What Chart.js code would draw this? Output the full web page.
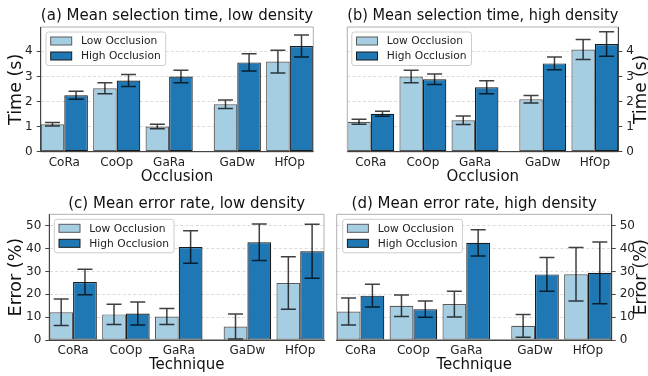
<!DOCTYPE html>
<html><head><meta charset="utf-8">
<script src="https://cdn.jsdelivr.net/npm/chart.js@4.4.1/dist/chart.umd.min.js"></script>
<style>
html,body{margin:0;padding:0;background:#fff;}
#wrap{position:relative;width:648px;height:376px;overflow:hidden;}
canvas{position:absolute;left:0;top:0;}
</style></head><body>
<div id="wrap">
<canvas id="pa" width="648" height="376"></canvas>
<canvas id="pb" width="648" height="376"></canvas>
<canvas id="pc" width="648" height="376"></canvas>
<canvas id="pd" width="648" height="376"></canvas>
</div>
<script>
// ---------- data ----------
const categories = ['CoRa', 'CoOp', 'GaRa', 'GaDw', 'HfOp'];
const groupX = [0, 1, 2, 3.3, 4.3];
const seriesLabels = ['Low Occlusion', 'High Occlusion'];

const timeTickValues = [0, 0.5, 1, 1.5, 2, 2.5, 3, 3.5, 4, 4.5];
const errorTickValues = [0, 5, 10, 15, 20, 25, 30, 35, 40, 45, 50];

// (a) selection time, low density
const timeLowDensLowOcc = [1.09, 2.53, 1.00, 1.89, 3.59];
const timeLowDensLowOccErr = [0.07, 0.22, 0.09, 0.17, 0.45];
const timeLowDensHighOcc = [2.25, 2.84, 3.00, 3.56, 4.21];
const timeLowDensHighOccErr = [0.16, 0.24, 0.25, 0.34, 0.44];
// (b) selection time, high density
const timeHighDensLowOcc = [1.19, 3.00, 1.25, 2.09, 4.07];
const timeHighDensLowOccErr = [0.10, 0.25, 0.17, 0.15, 0.40];
const timeHighDensHighOcc = [1.51, 2.89, 2.57, 3.52, 4.29];
const timeHighDensHighOccErr = [0.10, 0.21, 0.26, 0.25, 0.49];
// (c) error rate, low density
const errLowDensLowOcc = [12.1, 11.2, 10.3, 5.9, 24.9];
const errLowDensLowOccErr = [5.8, 4.4, 3.5, 5.5, 11.5];
const errLowDensHighOcc = [25.4, 11.6, 40.7, 42.8, 38.8];
const errLowDensHighOccErr = [5.6, 5.0, 7.1, 8.0, 11.8];
// (d) error rate, high density
const errHighDensLowOcc = [12.5, 15.0, 15.7, 6.2, 28.8];
const errHighDensLowOccErr = [5.9, 4.7, 5.6, 5.0, 11.7];
const errHighDensHighOcc = [19.4, 13.5, 42.5, 28.7, 29.4];
const errHighDensHighOccErr = [5.0, 3.6, 5.7, 7.4, 13.5];

// ---------- style ----------
const FONT = "'DejaVu Sans', sans-serif";
const LOW_COLOR = '#a6cee3', HIGH_COLOR = '#1f78b4';
const LOW_EDGE = '#5a5a5a', HIGH_EDGE = '#1a1a1a';
const DARK = '#444444', LIGHT_SPINE = '#b0b0b0', GRID = '#d2d2d2';
Chart.defaults.font.family = FONT;
Chart.defaults.color = '#222';

function toPoints(vals) { return vals.map((v, i) => ({ x: groupX[i], y: v })); }

const decor = {
  id: 'decor',
  afterDatasetsDraw(chart) {
    const ctx = chart.ctx, ys = chart.scales.y, a = chart.chartArea;
    const o = chart.options.plugins.decor;
    // error bars
    chart.data.datasets.forEach((ds, di) => {
      const meta = chart.getDatasetMeta(di);
      meta.data.forEach((bar, j) => {
        const v = ds.data[j].y, e = ds.errors[j];
        const yt = ys.getPixelForValue(v + e), yb = ys.getPixelForValue(v - e);
        ctx.save();
        ctx.strokeStyle = 'rgba(0,0,0,0.75)';
        ctx.lineWidth = 1.5;
        ctx.beginPath();
        ctx.moveTo(bar.x, yt); ctx.lineTo(bar.x, yb);
        ctx.moveTo(bar.x - 7.5, yt); ctx.lineTo(bar.x + 7.5, yt);
        ctx.moveTo(bar.x - 7.5, yb); ctx.lineTo(bar.x + 7.5, yb);
        ctx.stroke();
        ctx.restore();
      });
    });
    // spines
    ctx.save();
    ctx.lineWidth = 1;
    ctx.strokeStyle = LIGHT_SPINE;
    ctx.beginPath();
    ctx.moveTo(a.left, a.top); ctx.lineTo(a.right, a.top);
    if (o.side === 'left') { ctx.moveTo(a.right, a.top); ctx.lineTo(a.right, a.bottom); }
    else { ctx.moveTo(a.left, a.top); ctx.lineTo(a.left, a.bottom); }
    ctx.stroke();
    ctx.strokeStyle = DARK;
    ctx.beginPath();
    ctx.moveTo(a.left, a.bottom); ctx.lineTo(a.right, a.bottom);
    const sx = o.side === 'left' ? a.left : a.right;
    ctx.moveTo(sx, a.top); ctx.lineTo(sx, a.bottom);
    ctx.stroke();
    // minor ticks
    ctx.beginPath();
    ys.ticks.forEach(t => {
      if (t.value % o.major !== 0) {
        const py = ys.getPixelForValue(t.value);
        const dir = o.side === 'left' ? -1 : 1;
        ctx.moveTo(sx, py); ctx.lineTo(sx + dir * 2.2, py);
      }
    });
    ctx.stroke();
    ctx.restore();
  },
  afterDraw(chart) {
    const ctx = chart.ctx, a = chart.chartArea;
    const o = chart.options.plugins.decor;
    // legend
    ctx.save();
    ctx.font = '10.7px ' + FONT;
    const tw = Math.max(...chart.data.datasets.map(d => ctx.measureText(d.label).width));
    const bx = a.left + o.legendDx, by = a.top + 5, bw = 35 + tw + 5, bh = 33.5;
    ctx.fillStyle = 'rgba(255,255,255,0.85)';
    ctx.strokeStyle = '#cccccc';
    ctx.lineWidth = 1;
    ctx.beginPath();
    ctx.roundRect(bx, by, bw, bh, 2.5);
    ctx.fill(); ctx.stroke();
    chart.data.datasets.forEach((d, i) => {
      const cy = by + 9 + i * 15;
      ctx.fillStyle = d.backgroundColor;
      ctx.strokeStyle = d.borderColor;
      ctx.fillRect(bx + 4.7, cy - 4, 21, 8);
      ctx.strokeRect(bx + 4.7, cy - 4, 21, 8);
      ctx.fillStyle = '#222';
      ctx.textBaseline = 'middle';
      ctx.textAlign = 'left';
      ctx.fillText(d.label, bx + 35, cy + 0.5);
    });
    // right-side y title (reads bottom to top)
    if (o.side === 'right') {
      ctx.translate(642, (a.top + a.bottom) / 2);
      ctx.rotate(-Math.PI / 2);
      ctx.font = '17px ' + FONT;
      ctx.fillStyle = '#111';
      ctx.textAlign = 'center';
      ctx.textBaseline = 'middle';
      ctx.fillText(o.yTitle, 0, 0);
    }
    ctx.restore();
  }
};

function makePanel(id, p) {
  const left = p.side === 'left';
  const xH = p.xHeight;
  const cfg = {
    type: 'bar',
    data: {
      datasets: [
        { label: seriesLabels[0], data: toPoints(p.low), errors: p.lowErr,
          backgroundColor: LOW_COLOR, borderColor: LOW_EDGE, borderWidth: 1.2, borderSkipped: false },
        { label: seriesLabels[1], data: toPoints(p.high), errors: p.highErr,
          backgroundColor: HIGH_COLOR, borderColor: HIGH_EDGE, borderWidth: 1.2, borderSkipped: false }
      ]
    },
    options: {
      responsive: false,
      animation: false,
      events: [],
      datasets: { bar: { categoryPercentage: 0.9, barPercentage: 1.0, grouped: true } },
      layout: {
        padding: {
          left: left ? 0 : p.area.l,
          right: left ? 648 - p.area.r : 0,
          top: p.area.t - 27,
          bottom: 376 - p.area.b - xH
        }
      },
      plugins: {
        legend: { display: false },
        tooltip: { enabled: false },
        title: {
          display: true, text: p.title, fullSize: false,
          font: { size: 15, weight: 'normal' }, color: '#111',
          padding: { top: p.titlePadTop, bottom: 27 - 18 - p.titlePadTop }
        },
        decor: { side: p.side, major: p.major, legendDx: p.legendDx, yTitle: p.yTitle }
      },
      scales: {
        x: {
          type: 'linear', min: -0.45, max: 4.75, offset: false,
          grid: { display: false, drawTicks: false, offset: false },
          border: { display: true, color: DARK },
          afterBuildTicks: s => { s.ticks = groupX.map(v => ({ value: v })); },
          afterFit: s => { s.height = xH; },
          ticks: {
            autoSkip: false, maxRotation: 0, minRotation: 0, padding: 3.6,
            font: { size: 12 }, color: '#222',
            callback: (v, i) => categories[i]
          },
          title: { display: true, text: p.xTitle, font: { size: 15 }, color: '#111', padding: { top: 0, bottom: 0 } }
        },
        y: {
          type: 'linear', position: p.side, min: 0, max: p.yMax,
          afterBuildTicks: s => { s.ticks = p.yTicks.map(v => ({ value: v })); },
          afterFit: s => { s.width = left ? p.area.l : 648 - p.area.r; },
          grid: {
            display: true, drawOnChartArea: true, color: GRID, lineWidth: 0.8,
            drawTicks: true, tickLength: 4, tickWidth: 1,
            tickColor: c => (c.tick && c.tick.value % p.major === 0) ? DARK : 'rgba(0,0,0,0)'
          },
          border: { display: true, color: DARK, dash: [3, 2.2] },
          ticks: {
            padding: 4, font: { size: 12 }, color: '#222',
            callback: v => (v % p.major === 0 ? String(v) : '')
          },
          title: {
            display: left, text: p.yTitle, font: { size: 17.5 }, color: '#111',
            padding: { top: 6.3, bottom: 0 }
          }
        }
      }
    },
    plugins: [decor]
  };
  return new Chart(document.getElementById(id), cfg);
}

makePanel('pa', {
  title: '(a) Mean selection time, low density', side: 'left',
  area: { l: 40.7, t: 27, r: 313.3, b: 151.7 }, xHeight: 34.8, titlePadTop: 7.5,
  low: timeLowDensLowOcc, lowErr: timeLowDensLowOccErr,
  high: timeLowDensHighOcc, highErr: timeLowDensHighOccErr,
  yMax: 4.97, yTicks: timeTickValues, major: 1, legendDx: 5.3,
  xTitle: 'Occlusion', yTitle: 'Time (s)'
});
makePanel('pb', {
  title: '(b) Mean selection time, high density', side: 'right',
  area: { l: 347.3, t: 27, r: 618.3, b: 151.7 }, xHeight: 34.8, titlePadTop: 7.5,
  low: timeHighDensLowOcc, lowErr: timeHighDensLowOccErr,
  high: timeHighDensHighOcc, highErr: timeHighDensHighOccErr,
  yMax: 4.97, yTicks: timeTickValues, major: 1, legendDx: 4.5,
  xTitle: 'Occlusion', yTitle: 'Time (s)'
});
makePanel('pc', {
  title: '(c) Mean error rate, low density', side: 'left',
  area: { l: 49.3, t: 214.3, r: 324, b: 340 }, xHeight: 34, titlePadTop: 8,
  low: errLowDensLowOcc, lowErr: errLowDensLowOccErr,
  high: errLowDensHighOcc, highErr: errLowDensHighOccErr,
  yMax: 55, yTicks: errorTickValues, major: 10, legendDx: 5,
  xTitle: 'Technique', yTitle: 'Error (%)'
});
makePanel('pd', {
  title: '(d) Mean error rate, high density', side: 'right',
  area: { l: 336.7, t: 214.3, r: 611.7, b: 340 }, xHeight: 34, titlePadTop: 8,
  low: errHighDensLowOcc, lowErr: errHighDensLowOccErr,
  high: errHighDensHighOcc, highErr: errHighDensHighOccErr,
  yMax: 55, yTicks: errorTickValues, major: 10, legendDx: 6,
  xTitle: 'Technique', yTitle: 'Error (%)'
});
</script>
</body></html>
